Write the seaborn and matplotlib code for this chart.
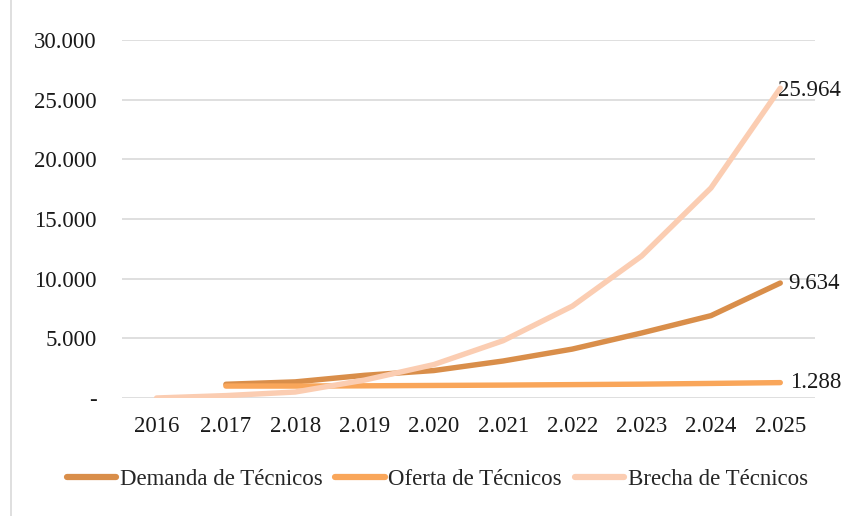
import numpy as np
import pandas as pd
import matplotlib
matplotlib.use("Agg")
import matplotlib.pyplot as plt
from matplotlib.ticker import FuncFormatter
from matplotlib.lines import Line2D
import seaborn as sns

years = ["2016", "2.017", "2.018", "2.019", "2.020", "2.021", "2.022", "2.023", "2.024", "2.025"]
demanda = [np.nan, 1150, 1350, 1900, 2300, 3100, 4100, 5450, 6900, 9634]
oferta = [np.nan, 1000, 1000, 1020, 1050, 1080, 1120, 1160, 1220, 1288]
brecha = [0, 200, 500, 1500, 2800, 4800, 7700, 11900, 17600, 25964]
series_names = ["Demanda de Técnicos", "Oferta de Técnicos", "Brecha de Técnicos"]
colors = ["#D98E4A", "#F9A65A", "#FBCDB2"]
end_labels = ["9.634", "1.288", "25.964"]

sns.set_theme(style="white")
plt.rcParams["font.family"] = ["Liberation Serif", "DejaVu Serif"]

FS = 16.5
pos = np.arange(len(years))
frames = []
for name, vals in zip(series_names, [demanda, oferta, brecha]):
    frames.append(pd.DataFrame({"x": pos, "valor": vals, "serie": name}))
df = pd.concat(frames, ignore_index=True).dropna()

fig = plt.figure(figsize=(8.41, 5.16), dpi=100)
ax = fig.add_axes([0.145, 0.2287, 0.824, 0.6938])

sns.lineplot(data=df, x="x", y="valor", hue="serie", hue_order=series_names,
             palette=colors, linewidth=3.9, ax=ax, legend=False,
             solid_capstyle="round", zorder=3)

ax.set_xlim(-0.5, len(years) - 0.5)
ax.set_ylim(0, 30000)
ax.set_yticks(np.arange(0, 30001, 5000))
ax.yaxis.set_major_formatter(FuncFormatter(
    lambda v, p: "-" if v == 0 else f"{int(v):,}".replace(",", ".")))
ax.set_xticks(pos)
ax.set_xticklabels(years)
ax.grid(axis="y", color="#d9d9d9", linewidth=1.2)
ax.grid(axis="x", visible=False)
for s in ax.spines.values():
    s.set_visible(False)
ax.tick_params(axis="y", length=0, pad=18, labelsize=FS, colors="#1a1a1a")
ax.tick_params(axis="x", length=0, pad=13, labelsize=FS, colors="#1a1a1a")
ax.set_xlabel("")
ax.set_ylabel("")

last = len(years) - 1
offsets = [(6, 0), (7, 0), (-2, -2)]
for vals, lab, off in zip([demanda, oferta, brecha], end_labels, offsets):
    ax.annotate(lab, (pos[last], vals[last]), xytext=off, textcoords="offset points",
                ha="left", va="center", fontsize=FS, color="#1a1a1a", annotation_clip=False)

handles = [Line2D([0], [0], color=c, lw=4.5, solid_capstyle="round") for c in colors]
fig.legend(handles, series_names, loc="center", bbox_to_anchor=(0.52, 0.07), ncol=3,
           frameon=False, fontsize=FS, handlelength=2.15, handletextpad=0.17,
           columnspacing=0.55)

fig.add_artist(Line2D([0.013, 0.013], [0.0, 1.0], transform=fig.transFigure,
                      color="#d9d9d9", lw=1.2))

fig.savefig("out.png", dpi=100)
